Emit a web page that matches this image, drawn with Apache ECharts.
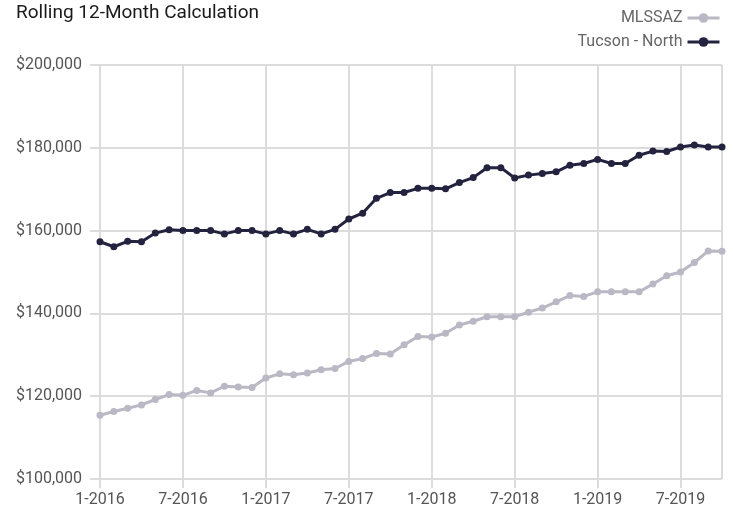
<!DOCTYPE html>
<html>
<head>
<meta charset="utf-8">
<script src="https://cdn.jsdelivr.net/npm/echarts@6/dist/echarts.min.js"></script>
<style>
  html, body { margin: 0; padding: 0; background: #fff; }
  #chart { width: 733px; height: 512px; }
</style>
</head>
<body>
<div id="chart"></div>
<script>
// Month labels, January 2016 through October 2019
const months = [
  '1-2016','2-2016','3-2016','4-2016','5-2016','6-2016','7-2016','8-2016','9-2016','10-2016','11-2016','12-2016',
  '1-2017','2-2017','3-2017','4-2017','5-2017','6-2017','7-2017','8-2017','9-2017','10-2017','11-2017','12-2017',
  '1-2018','2-2018','3-2018','4-2018','5-2018','6-2018','7-2018','8-2018','9-2018','10-2018','11-2018','12-2018',
  '1-2019','2-2019','3-2019','4-2019','5-2019','6-2019','7-2019','8-2019','9-2019','10-2019'
];

// Rolling 12-month median price, statewide MLS
const mlssaz = [
  115400, 116300, 117100, 117900, 119200, 120400, 120200, 121400, 120800, 122400, 122200, 122100,
  124400, 125400, 125200, 125600, 126400, 126700, 128400, 129100, 130300, 130200, 132400, 134400,
  134300, 135200, 137200, 138100, 139200, 139200, 139200, 140300, 141300, 142800, 144300, 144100,
  145200, 145200, 145200, 145200, 147100, 149100, 150000, 152300, 155100, 155000
];

// Rolling 12-month median price, Tucson - North
const tucsonNorth = [
  157300, 156100, 157400, 157300, 159400, 160200, 160000, 160000, 160000, 159200, 160000, 160000,
  159200, 160000, 159200, 160300, 159200, 160300, 162800, 164200, 167800, 169200, 169200, 170200,
  170200, 170100, 171600, 172800, 175200, 175200, 172700, 173400, 173800, 174200, 175800, 176200,
  177200, 176200, 176200, 178200, 179200, 179100, 180200, 180700, 180200, 180200
];

// Price axis ticks
const yTicks = [100000, 120000, 140000, 160000, 180000, 200000];

const FONT = 'Roboto, "Liberation Sans", sans-serif';
const GRID_COLOR = '#dcdcdc';

const toPairs = arr => arr.map((v, i) => [i, v]);
const money = v => '$' + v.toLocaleString('en-US');

const chart = echarts.init(document.getElementById('chart'), null, { renderer: 'canvas' });

chart.setOption({
  animation: false,
  backgroundColor: '#ffffff',
  title: {
    text: 'Rolling 12-Month Calculation',
    left: 11,
    top: -1,
    textStyle: { fontFamily: FONT, fontSize: 19, fontWeight: 'normal', color: '#1a1a1a' }
  },
  legend: {
    orient: 'vertical',
    right: 7,
    top: 5,
    align: 'right',
    itemWidth: 32,
    itemHeight: 12,
    itemGap: 8,
    lineStyle: { width: 3 },
    textStyle: { fontFamily: FONT, fontSize: 16, color: '#666' },
    data: ['MLSSAZ', 'Tucson - North']
  },
  grid: { left: 100, right: 11, top: 65, bottom: 33 },
  xAxis: {
    type: 'value',
    min: 0,
    max: months.length - 1,
    interval: 6,
    axisLine: { show: false },
    axisTick: { show: true, length: 9, lineStyle: { color: GRID_COLOR, width: 2 } },
    splitLine: { show: true, lineStyle: { color: GRID_COLOR, width: 2 } },
    axisLabel: {
      fontFamily: FONT, fontSize: 16, color: '#555', margin: 13,
      showMaxLabel: false,
      formatter: v => (v % 6 === 0 ? months[v] : '')
    }
  },
  yAxis: {
    type: 'value',
    min: yTicks[0],
    max: yTicks[yTicks.length - 1],
    interval: yTicks[1] - yTicks[0],
    axisLine: { show: false },
    axisTick: { show: true, length: 10, lineStyle: { color: GRID_COLOR, width: 2 } },
    splitLine: { show: true, lineStyle: { color: GRID_COLOR, width: 2 } },
    axisLabel: { fontFamily: FONT, fontSize: 16, color: '#555', margin: 18, formatter: money }
  },
  series: [
    {
      name: 'MLSSAZ',
      type: 'line',
      data: toPairs(mlssaz),
      symbol: 'circle',
      symbolSize: 7,
      lineStyle: { color: '#b9b8c4', width: 3 },
      itemStyle: { color: '#b9b8c4' }
    },
    {
      name: 'Tucson - North',
      type: 'line',
      data: toPairs(tucsonNorth),
      symbol: 'circle',
      symbolSize: 7,
      lineStyle: { color: '#23233f', width: 3 },
      itemStyle: { color: '#23233f' }
    }
  ]
});
</script>
</body>
</html>
